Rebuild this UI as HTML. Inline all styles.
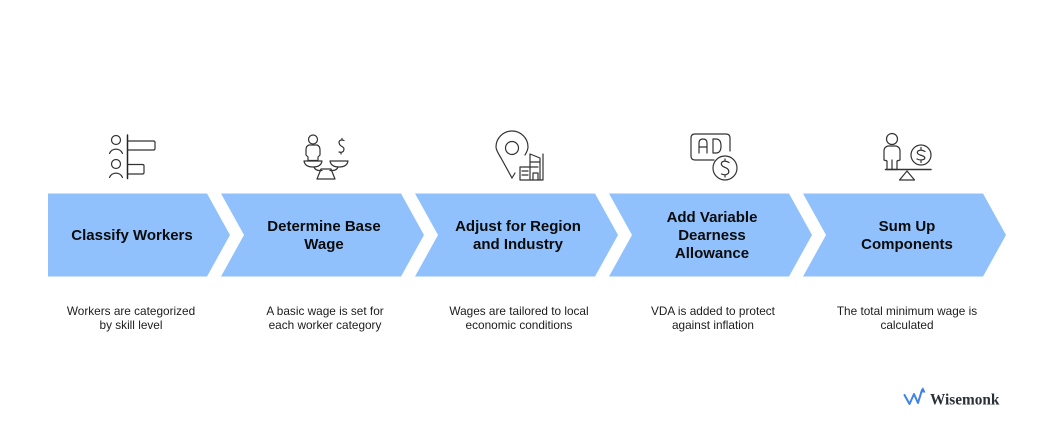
<!DOCTYPE html>
<html><head><meta charset="utf-8"><style>
html,body{margin:0;padding:0;background:#fff}
svg{display:block}
text{font-family:"Liberation Sans",sans-serif}
.t{font-size:15px;font-weight:700;fill:#0b0b0b;text-anchor:middle}
.d{font-size:11.8px;fill:#1c1c1c;text-anchor:middle}
.i{fill:none;stroke:#333;stroke-width:1.2;stroke-linecap:round;stroke-linejoin:round}
</style></head><body>
<svg width="1042" height="441" viewBox="0 0 1042 441" xmlns="http://www.w3.org/2000/svg">
<rect width="1042" height="441" fill="#fff"/>
<g fill="#90c1fd">
<path d="M48 193.500H207L230 235L207 276.500H48Z"/>
<path d="M221 193.500H401L424 235L401 276.500H221L244 235Z"/>
<path d="M415 193.500H595L618 235L595 276.500H415L438 235Z"/>
<path d="M609 193.500H789L812 235L789 276.500H609L632 235Z"/>
<path d="M803 193.500H983L1006 235L983 276.500H803L826 235Z"/>
</g>
<text class="t" x="132" y="240">Classify Workers</text>
<text class="t" x="324" y="231">Determine Base</text><text class="t" x="324" y="249">Wage</text>
<text class="t" x="518" y="231">Adjust for Region</text><text class="t" x="518" y="249">and Industry</text>
<text class="t" x="712" y="222">Add Variable</text><text class="t" x="712" y="240">Dearness</text><text class="t" x="712" y="258">Allowance</text>
<text class="t" x="907" y="231">Sum Up</text><text class="t" x="907" y="249">Components</text>
<text class="d" x="131" y="315">Workers are categorized</text><text class="d" x="131" y="329">by skill level</text>
<text class="d" x="325" y="315">A basic wage is set for</text><text class="d" x="325" y="329">each worker category</text>
<text class="d" x="519" y="315">Wages are tailored to local</text><text class="d" x="519" y="329">economic conditions</text>
<text class="d" x="713" y="315">VDA is added to protect</text><text class="d" x="713" y="329">against inflation</text>
<text class="d" x="907" y="315">The total minimum wage is</text><text class="d" x="907" y="329">calculated</text>

<!-- icon 1 -->
<g class="i">
<circle cx="116" cy="140" r="4.500"/><path d="M109.500 153.500a7 7 0 0 1 13 0"/>
<circle cx="116" cy="164" r="4.500"/><path d="M109.500 177.500a7 7 0 0 1 13 0"/>
<path d="M127.500 135V178.500" stroke-width="1.500" stroke="#222"/>
<path d="M127.500 141H153.500Q155 141 155 142.500V148.500Q155 150 153.500 150H127.500"/>
<path d="M127.500 164.500H142.500Q144 164.500 144 166V172.500Q144 174 142.500 174H127.500"/>
</g>
<!-- icon 2 -->
<g class="i">
<circle cx="313" cy="139.500" r="4.500"/>
<path d="M309 145H317Q320 146 320 150V155L318 157V160.500H308V157L306 155V150Q306 146 309 145Z"/>
<path d="M304 161H322Q321 167 313 167Q305 167 304 161Z"/>
<path d="M330 161H348Q347 167 339 167Q331 167 330 161Z"/>
<path d="M314 167Q315 170 319 170.500H322M338 167Q337 170 333 170.500H330"/>
<path d="M321 169H331L335 179H317Z"/>
<path d="M344 140.500Q340 139 339 142Q339 145 342 146.500Q345 148 343.500 151Q342 153 339 152M342 138.500V140M341 152.500V154"/>
</g>
<!-- icon 3 -->
<g class="i">
<path d="M512 178L501 158Q496 150 496 147A16 16 0 0 1 528 147Q528 150 525 155"/>
<path d="M512 178L515 173"/>
<circle cx="512" cy="148" r="6.500"/>
<path d="M520 180V167H530V180M530 180V154L540 158V180M520 180H543V157M543 154V157M530 162H540M530 167H538M522 171H528M522 175H528"/>
<path d="M533 180V173H538V180"/>
</g>
<!-- icon 4 -->
<g class="i">
<path d="M714 160H695Q691 160 691 156V138Q691 134 695 134H726Q730 134 730 138V151"/>
<path d="M699 153V143Q699 139 703 139Q707 139 707 143V153M699 147H707"/>
<path d="M713 139V153H716Q721 153 721 146Q721 139 716 139Z"/>
<circle cx="725" cy="168" r="12"/>
<path d="M729 162.500Q725 160 722 162Q720 165 724 167Q730 169 728.500 173Q726 176 721.500 174M725 159V161M725 175V177"/>
</g>
<!-- icon 5 -->
<g class="i">
<circle cx="892" cy="139" r="5.500"/>
<path d="M888 146H896Q900 147 900 151V160L897 161V169.500H887V161L884 160V151Q884 147 888 146Z"/>
<path d="M892 160V169"/>
<circle cx="921" cy="155" r="10"/>
<path d="M925 151.500Q921 149 918 151Q916 153.500 920 155Q926 156.500 924.500 159Q921 161 917 159M921 147.500V149M921 161V162.500"/>
<path d="M885.500 169.500H931" stroke-width="1.600"/>
<path d="M907 171L899.500 180H914.500Z"/>
</g>
<!-- logo -->
<path d="M904.500 395L909.500 404L914 394L918 403L922 390" fill="none" stroke="#3f83e6" stroke-width="2" stroke-linejoin="round" stroke-linecap="round"/>
<path d="M920 392.500L923 387L925.500 392.500Z" fill="#3f83e6"/>
<text x="930" y="404.500" font-size="15.300" font-weight="700" fill="#2b2f36" style="font-family:'Liberation Serif',serif">Wisemonk</text>
</svg>
</body></html>
